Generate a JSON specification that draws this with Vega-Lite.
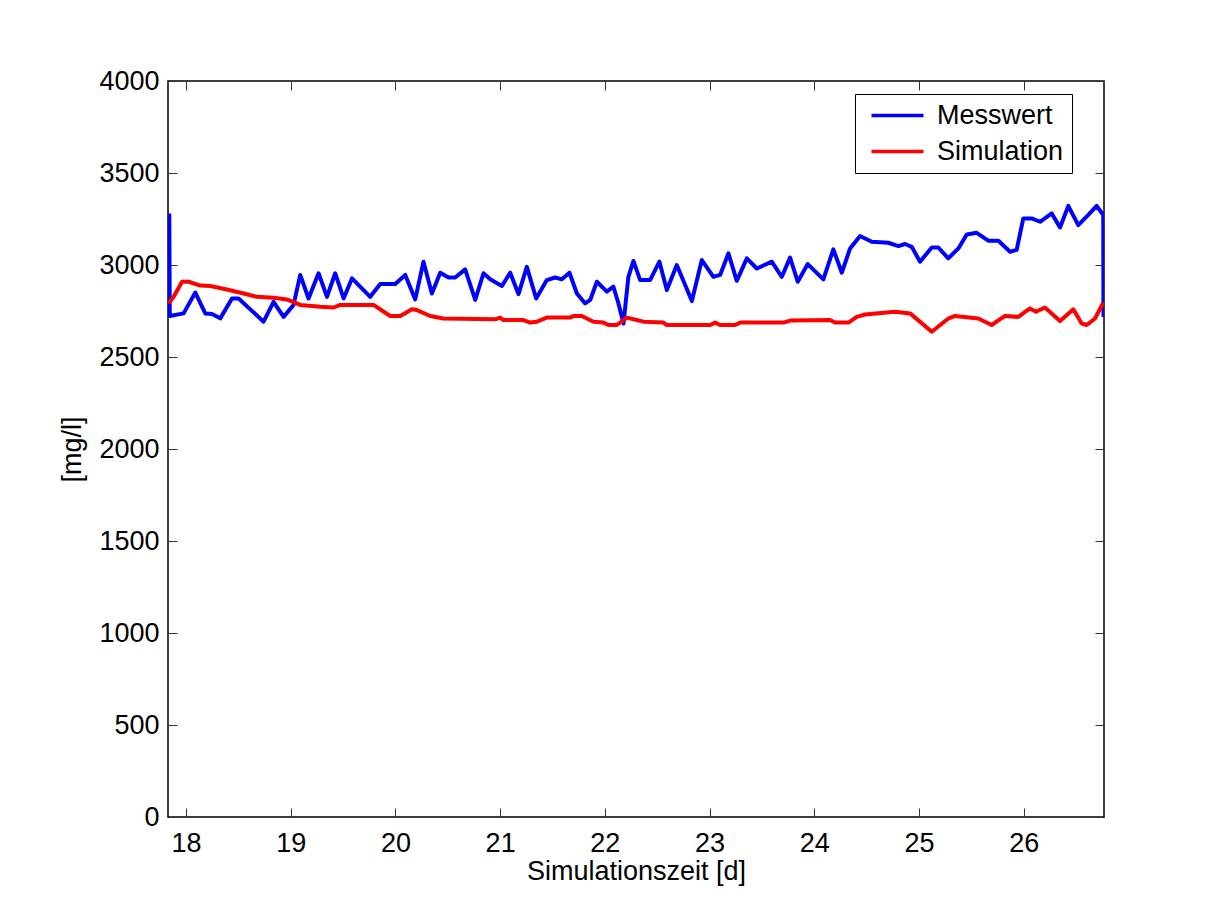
{
  "$schema": "https://vega.github.io/schema/vega-lite/v6.json",
  "width": 936,
  "height": 736,
  "autosize": {"type": "none"},
  "padding": {"left": 168, "top": 81, "right": 117, "bottom": 99},
  "background": "white",
  "config": {
    "font": "Liberation Sans",
    "view": {"stroke": "black", "strokeWidth": 1.5},
    "axis": {
      "labelFont": "Liberation Sans",
      "labelFontSize": 27,
      "labelColor": "black",
      "titleFont": "Liberation Sans",
      "titleFontSize": 27,
      "titleFontWeight": "normal",
      "titleColor": "black",
      "grid": false,
      "domain": false,
      "tickColor": "#333333",
      "tickWidth": 1,
      "tickSize": -9
    },
    "legend": {
      "labelFont": "Liberation Sans",
      "labelFontSize": 27,
      "labelColor": "black"
    }
  },
  "data": {
    "values": [
      {"series": "Messwert", "i": 1, "t": 17.840, "v": 3280},
      {"series": "Messwert", "i": 2, "t": 17.845, "v": 2723},
      {"series": "Messwert", "i": 3, "t": 17.977, "v": 2737},
      {"series": "Messwert", "i": 4, "t": 18.089, "v": 2850},
      {"series": "Messwert", "i": 5, "t": 18.184, "v": 2737},
      {"series": "Messwert", "i": 6, "t": 18.248, "v": 2734},
      {"series": "Messwert", "i": 7, "t": 18.327, "v": 2710},
      {"series": "Messwert", "i": 8, "t": 18.439, "v": 2818},
      {"series": "Messwert", "i": 9, "t": 18.502, "v": 2818},
      {"series": "Messwert", "i": 10, "t": 18.741, "v": 2692},
      {"series": "Messwert", "i": 11, "t": 18.836, "v": 2800},
      {"series": "Messwert", "i": 12, "t": 18.932, "v": 2718},
      {"series": "Messwert", "i": 13, "t": 19.027, "v": 2783},
      {"series": "Messwert", "i": 14, "t": 19.091, "v": 2946},
      {"series": "Messwert", "i": 15, "t": 19.170, "v": 2818},
      {"series": "Messwert", "i": 16, "t": 19.266, "v": 2955},
      {"series": "Messwert", "i": 17, "t": 19.346, "v": 2827},
      {"series": "Messwert", "i": 18, "t": 19.425, "v": 2955},
      {"series": "Messwert", "i": 19, "t": 19.505, "v": 2818},
      {"series": "Messwert", "i": 20, "t": 19.585, "v": 2927},
      {"series": "Messwert", "i": 21, "t": 19.759, "v": 2827},
      {"series": "Messwert", "i": 22, "t": 19.855, "v": 2897},
      {"series": "Messwert", "i": 23, "t": 19.998, "v": 2897},
      {"series": "Messwert", "i": 24, "t": 20.094, "v": 2946},
      {"series": "Messwert", "i": 25, "t": 20.189, "v": 2813},
      {"series": "Messwert", "i": 26, "t": 20.268, "v": 3018},
      {"series": "Messwert", "i": 27, "t": 20.348, "v": 2845},
      {"series": "Messwert", "i": 28, "t": 20.428, "v": 2958},
      {"series": "Messwert", "i": 29, "t": 20.507, "v": 2932},
      {"series": "Messwert", "i": 30, "t": 20.571, "v": 2932},
      {"series": "Messwert", "i": 31, "t": 20.666, "v": 2976},
      {"series": "Messwert", "i": 32, "t": 20.762, "v": 2810},
      {"series": "Messwert", "i": 33, "t": 20.841, "v": 2955},
      {"series": "Messwert", "i": 34, "t": 20.905, "v": 2922},
      {"series": "Messwert", "i": 35, "t": 21.017, "v": 2886},
      {"series": "Messwert", "i": 36, "t": 21.096, "v": 2958},
      {"series": "Messwert", "i": 37, "t": 21.175, "v": 2842},
      {"series": "Messwert", "i": 38, "t": 21.255, "v": 2990},
      {"series": "Messwert", "i": 39, "t": 21.344, "v": 2818},
      {"series": "Messwert", "i": 40, "t": 21.446, "v": 2918},
      {"series": "Messwert", "i": 41, "t": 21.525, "v": 2932},
      {"series": "Messwert", "i": 42, "t": 21.589, "v": 2922},
      {"series": "Messwert", "i": 43, "t": 21.662, "v": 2958},
      {"series": "Messwert", "i": 44, "t": 21.733, "v": 2845},
      {"series": "Messwert", "i": 45, "t": 21.812, "v": 2791},
      {"series": "Messwert", "i": 46, "t": 21.860, "v": 2810},
      {"series": "Messwert", "i": 47, "t": 21.924, "v": 2909},
      {"series": "Messwert", "i": 48, "t": 22.019, "v": 2855},
      {"series": "Messwert", "i": 49, "t": 22.082, "v": 2882},
      {"series": "Messwert", "i": 50, "t": 22.130, "v": 2791},
      {"series": "Messwert", "i": 51, "t": 22.178, "v": 2682},
      {"series": "Messwert", "i": 52, "t": 22.225, "v": 2936},
      {"series": "Messwert", "i": 53, "t": 22.273, "v": 3022},
      {"series": "Messwert", "i": 54, "t": 22.337, "v": 2918},
      {"series": "Messwert", "i": 55, "t": 22.432, "v": 2918},
      {"series": "Messwert", "i": 56, "t": 22.521, "v": 3018},
      {"series": "Messwert", "i": 57, "t": 22.592, "v": 2864},
      {"series": "Messwert", "i": 58, "t": 22.687, "v": 3000},
      {"series": "Messwert", "i": 59, "t": 22.831, "v": 2804},
      {"series": "Messwert", "i": 60, "t": 22.926, "v": 3027},
      {"series": "Messwert", "i": 61, "t": 23.037, "v": 2936},
      {"series": "Messwert", "i": 62, "t": 23.101, "v": 2946},
      {"series": "Messwert", "i": 63, "t": 23.180, "v": 3063},
      {"series": "Messwert", "i": 64, "t": 23.260, "v": 2914},
      {"series": "Messwert", "i": 65, "t": 23.356, "v": 3036},
      {"series": "Messwert", "i": 66, "t": 23.451, "v": 2981},
      {"series": "Messwert", "i": 67, "t": 23.594, "v": 3018},
      {"series": "Messwert", "i": 68, "t": 23.690, "v": 2936},
      {"series": "Messwert", "i": 69, "t": 23.769, "v": 3040},
      {"series": "Messwert", "i": 70, "t": 23.842, "v": 2909},
      {"series": "Messwert", "i": 71, "t": 23.938, "v": 3005},
      {"series": "Messwert", "i": 72, "t": 24.087, "v": 2922},
      {"series": "Messwert", "i": 73, "t": 24.182, "v": 3085},
      {"series": "Messwert", "i": 74, "t": 24.263, "v": 2958},
      {"series": "Messwert", "i": 75, "t": 24.342, "v": 3090},
      {"series": "Messwert", "i": 76, "t": 24.437, "v": 3158},
      {"series": "Messwert", "i": 77, "t": 24.549, "v": 3126},
      {"series": "Messwert", "i": 78, "t": 24.707, "v": 3121},
      {"series": "Messwert", "i": 79, "t": 24.803, "v": 3103},
      {"series": "Messwert", "i": 80, "t": 24.867, "v": 3114},
      {"series": "Messwert", "i": 81, "t": 24.931, "v": 3099},
      {"series": "Messwert", "i": 82, "t": 25.010, "v": 3018},
      {"series": "Messwert", "i": 83, "t": 25.122, "v": 3095},
      {"series": "Messwert", "i": 84, "t": 25.185, "v": 3095},
      {"series": "Messwert", "i": 85, "t": 25.280, "v": 3036},
      {"series": "Messwert", "i": 86, "t": 25.376, "v": 3090},
      {"series": "Messwert", "i": 87, "t": 25.456, "v": 3166},
      {"series": "Messwert", "i": 88, "t": 25.551, "v": 3175},
      {"series": "Messwert", "i": 89, "t": 25.662, "v": 3132},
      {"series": "Messwert", "i": 90, "t": 25.758, "v": 3132},
      {"series": "Messwert", "i": 91, "t": 25.870, "v": 3072},
      {"series": "Messwert", "i": 92, "t": 25.933, "v": 3082},
      {"series": "Messwert", "i": 93, "t": 25.996, "v": 3253},
      {"series": "Messwert", "i": 94, "t": 26.076, "v": 3253},
      {"series": "Messwert", "i": 95, "t": 26.156, "v": 3235},
      {"series": "Messwert", "i": 96, "t": 26.268, "v": 3280},
      {"series": "Messwert", "i": 97, "t": 26.347, "v": 3204},
      {"series": "Messwert", "i": 98, "t": 26.426, "v": 3321},
      {"series": "Messwert", "i": 99, "t": 26.521, "v": 3217},
      {"series": "Messwert", "i": 100, "t": 26.617, "v": 3272},
      {"series": "Messwert", "i": 101, "t": 26.697, "v": 3321},
      {"series": "Messwert", "i": 102, "t": 26.760, "v": 3272},
      {"series": "Messwert", "i": 103, "t": 26.762, "v": 2718},
      {"series": "Simulation", "i": 1, "t": 17.834, "v": 2792},
      {"series": "Simulation", "i": 2, "t": 17.882, "v": 2827},
      {"series": "Simulation", "i": 3, "t": 17.962, "v": 2909},
      {"series": "Simulation", "i": 4, "t": 18.025, "v": 2909},
      {"series": "Simulation", "i": 5, "t": 18.137, "v": 2888},
      {"series": "Simulation", "i": 6, "t": 18.232, "v": 2886},
      {"series": "Simulation", "i": 7, "t": 18.391, "v": 2867},
      {"series": "Simulation", "i": 8, "t": 18.550, "v": 2845},
      {"series": "Simulation", "i": 9, "t": 18.678, "v": 2827},
      {"series": "Simulation", "i": 10, "t": 18.836, "v": 2822},
      {"series": "Simulation", "i": 11, "t": 18.964, "v": 2813},
      {"series": "Simulation", "i": 12, "t": 19.091, "v": 2783},
      {"series": "Simulation", "i": 13, "t": 19.282, "v": 2773},
      {"series": "Simulation", "i": 14, "t": 19.409, "v": 2769},
      {"series": "Simulation", "i": 15, "t": 19.473, "v": 2783},
      {"series": "Simulation", "i": 16, "t": 19.791, "v": 2783},
      {"series": "Simulation", "i": 17, "t": 19.950, "v": 2723},
      {"series": "Simulation", "i": 18, "t": 20.046, "v": 2723},
      {"series": "Simulation", "i": 19, "t": 20.158, "v": 2759},
      {"series": "Simulation", "i": 20, "t": 20.205, "v": 2755},
      {"series": "Simulation", "i": 21, "t": 20.332, "v": 2723},
      {"series": "Simulation", "i": 22, "t": 20.459, "v": 2709},
      {"series": "Simulation", "i": 23, "t": 20.953, "v": 2705},
      {"series": "Simulation", "i": 24, "t": 21.000, "v": 2714},
      {"series": "Simulation", "i": 25, "t": 21.032, "v": 2701},
      {"series": "Simulation", "i": 26, "t": 21.223, "v": 2701},
      {"series": "Simulation", "i": 27, "t": 21.287, "v": 2687},
      {"series": "Simulation", "i": 28, "t": 21.351, "v": 2692},
      {"series": "Simulation", "i": 29, "t": 21.446, "v": 2714},
      {"series": "Simulation", "i": 30, "t": 21.669, "v": 2714},
      {"series": "Simulation", "i": 31, "t": 21.700, "v": 2723},
      {"series": "Simulation", "i": 32, "t": 21.780, "v": 2723},
      {"series": "Simulation", "i": 33, "t": 21.891, "v": 2692},
      {"series": "Simulation", "i": 34, "t": 21.987, "v": 2687},
      {"series": "Simulation", "i": 35, "t": 22.034, "v": 2674},
      {"series": "Simulation", "i": 36, "t": 22.115, "v": 2674},
      {"series": "Simulation", "i": 37, "t": 22.210, "v": 2714},
      {"series": "Simulation", "i": 38, "t": 22.305, "v": 2701},
      {"series": "Simulation", "i": 39, "t": 22.368, "v": 2692},
      {"series": "Simulation", "i": 40, "t": 22.559, "v": 2687},
      {"series": "Simulation", "i": 41, "t": 22.592, "v": 2674},
      {"series": "Simulation", "i": 42, "t": 23.005, "v": 2674},
      {"series": "Simulation", "i": 43, "t": 23.053, "v": 2687},
      {"series": "Simulation", "i": 44, "t": 23.101, "v": 2674},
      {"series": "Simulation", "i": 45, "t": 23.244, "v": 2674},
      {"series": "Simulation", "i": 46, "t": 23.292, "v": 2687},
      {"series": "Simulation", "i": 47, "t": 23.705, "v": 2687},
      {"series": "Simulation", "i": 48, "t": 23.769, "v": 2698},
      {"series": "Simulation", "i": 49, "t": 24.151, "v": 2701},
      {"series": "Simulation", "i": 50, "t": 24.199, "v": 2687},
      {"series": "Simulation", "i": 51, "t": 24.326, "v": 2687},
      {"series": "Simulation", "i": 52, "t": 24.406, "v": 2718},
      {"series": "Simulation", "i": 53, "t": 24.485, "v": 2731},
      {"series": "Simulation", "i": 54, "t": 24.772, "v": 2746},
      {"series": "Simulation", "i": 55, "t": 24.915, "v": 2737},
      {"series": "Simulation", "i": 56, "t": 25.122, "v": 2637},
      {"series": "Simulation", "i": 57, "t": 25.280, "v": 2709},
      {"series": "Simulation", "i": 58, "t": 25.344, "v": 2723},
      {"series": "Simulation", "i": 59, "t": 25.567, "v": 2709},
      {"series": "Simulation", "i": 60, "t": 25.694, "v": 2674},
      {"series": "Simulation", "i": 61, "t": 25.821, "v": 2723},
      {"series": "Simulation", "i": 62, "t": 25.948, "v": 2718},
      {"series": "Simulation", "i": 63, "t": 26.060, "v": 2764},
      {"series": "Simulation", "i": 64, "t": 26.117, "v": 2746},
      {"series": "Simulation", "i": 65, "t": 26.203, "v": 2769},
      {"series": "Simulation", "i": 66, "t": 26.347, "v": 2696},
      {"series": "Simulation", "i": 67, "t": 26.474, "v": 2759},
      {"series": "Simulation", "i": 68, "t": 26.554, "v": 2682},
      {"series": "Simulation", "i": 69, "t": 26.602, "v": 2674},
      {"series": "Simulation", "i": 70, "t": 26.681, "v": 2709},
      {"series": "Simulation", "i": 71, "t": 26.760, "v": 2795}
    ]
  },
  "layer": [
    {
      "mark": {"type": "line", "strokeWidth": 4, "clip": true, "strokeJoin": "round"},
      "encoding": {
        "x": {
          "field": "t", "type": "quantitative",
          "scale": {"domain": [17.828, 26.767], "nice": false, "zero": false},
          "axis": {"orient": "bottom", "values": [18, 19, 20, 21, 22, 23, 24, 25, 26], "format": "d", "labelPadding": 22, "title": "Simulationszeit [d]", "titlePadding": 2}
        },
        "y": {
          "field": "v", "type": "quantitative",
          "scale": {"domain": [0, 4000], "nice": false, "zero": true},
          "axis": {"orient": "left", "values": [0, 500, 1000, 1500, 2000, 2500, 3000, 3500, 4000], "format": "d", "labelPadding": 18, "title": "[mg/l]", "titlePadding": 12}
        },
        "color": {
          "field": "series", "type": "nominal",
          "scale": {"domain": ["Messwert", "Simulation"], "range": ["#0000ff", "#ff0000"]},
          "legend": {
            "title": null,
            "orient": "none",
            "legendX": 687,
            "legendY": 13,
            "strokeColor": "black",
            "fillColor": "white",
            "padding": 8,
            "rowPadding": 8,
            "symbolType": "M-2.6,0H2.6",
            "symbolSize": 400,
            "symbolStrokeWidth": 3.5,
            "symbolOffset": 21,
            "labelOffset": 26,
            "cornerRadius": 0
          }
        },
        "order": {"field": "i", "type": "quantitative"}
      }
    },
    {
      "mark": {"type": "point", "opacity": 0},
      "encoding": {
        "x": {
          "field": "t", "type": "quantitative",
          "scale": {"domain": [17.828, 26.767], "nice": false, "zero": false},
          "axis": {"orient": "top", "values": [18, 19, 20, 21, 22, 23, 24, 25, 26], "labels": false, "title": null}
        },
        "y": {
          "field": "v", "type": "quantitative",
          "scale": {"domain": [0, 4000], "nice": false, "zero": true},
          "axis": {"orient": "right", "values": [0, 500, 1000, 1500, 2000, 2500, 3000, 3500, 4000], "labels": false, "title": null}
        }
      }
    }
  ],
  "resolve": {"axis": {"x": "independent", "y": "independent"}}
}
